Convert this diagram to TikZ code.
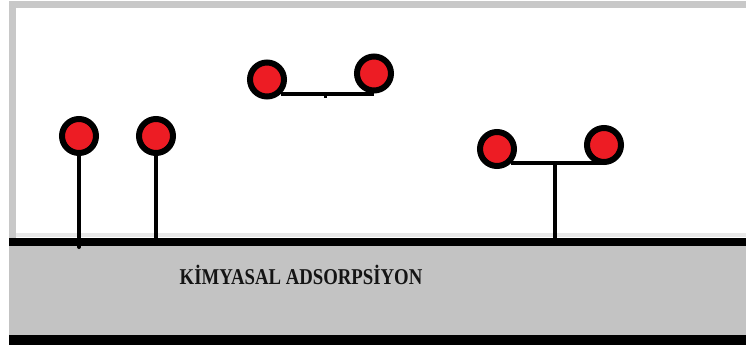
\documentclass[tikz,border=0pt]{standalone}
\usepackage{fontspec}
\setmainfont{Liberation Serif}
\definecolor{atomred}{RGB}{237,28,36}
\definecolor{substrate}{RGB}{195,195,195}
\definecolor{framegray}{RGB}{200,200,200}
\tikzset{
  atom/.style={circle, draw=black, fill=atomred, line width=6pt, minimum size=34pt, inner sep=0pt},
  bond/.style={line width=4pt, line cap=round},
}
\begin{document}
\begin{tikzpicture}[x=1pt, y=-1pt]
  \useasboundingbox (0,0) rectangle (746,345);
  \fill[white] (0,0) rectangle (746,345);

  % frame around the gas phase
  \draw[framegray, line width=7pt] (12.5,240) -- (12.5,4.5) -- (750,4.5);
  \draw[gray!18, line width=4pt] (16,235) -- (746,235);

  % solid surface
  \fill[substrate] (9,241) rectangle (746,336);
  \fill[black] (9,238) rectangle (746,246);
  \fill[black] (9,335) rectangle (746,345);

  % chemisorbed atoms
  \node[atom] (a1) at (79,136) {};
  \node[atom] (a2) at (156,136) {};
  \coordinate (s1) at (79,247);
  \coordinate (s2) at (156,241);
  \draw[bond] (a1.south) -- (s1);
  \draw[bond, line cap=butt] (a2.south) -- (s2);

  % free molecule in the gas phase
  \node[atom] (m1) at (267,79.5) {};
  \node[atom] (m2) at (374,73.5) {};
  \draw[bond, line cap=butt] (m1.-45) -- (m1.-45 -| m2.south);
  \coordinate (t1) at (325,93.5);
  \coordinate (t2) at (325,97.5);
  \draw[line width=3pt] (t1) -- (t2);

  % dissociating molecule bound to the surface
  \node[atom] (d1) at (497,149) {};
  \node[atom] (d2) at (604,145) {};
  \draw[bond, line cap=butt] (d1.-45) -- (d1.-45 -| d2.south);
  \coordinate (dj) at (555,163);
  \coordinate (ds) at (555,241);
  \draw[bond, line cap=butt] (dj) -- (ds);

  % label
  \node[text=black!92, font=\bfseries\fontsize{22.6}{24}\selectfont, inner sep=0pt] (lbl) at (301,275)
    {\scalebox{0.83}[1]{KİMYASAL ADSORPSİYON}};
\end{tikzpicture}
\end{document}
